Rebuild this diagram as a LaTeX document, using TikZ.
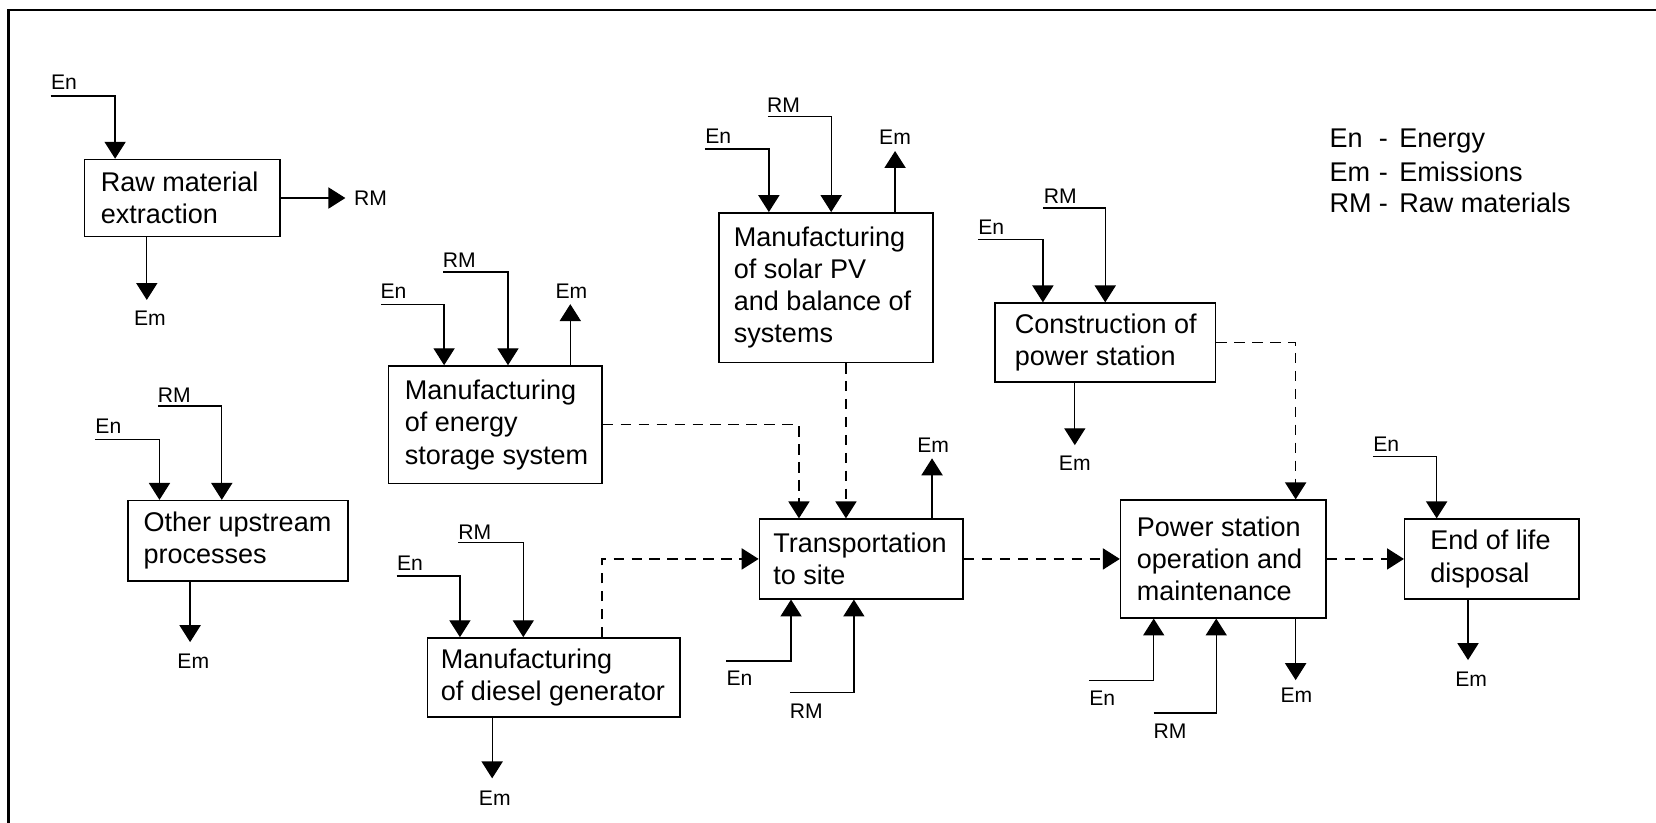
\documentclass[tikz,border=0pt]{standalone}
\usepackage{fontspec}
\setmainfont{Liberation Sans}
\usetikzlibrary{arrows.meta,fit}
\begin{document}
\begin{tikzpicture}[x=0.5pt,y=-0.5pt,
  box/.style={draw, line width=0.7pt, inner sep=0pt},
  boxtext/.style={inner sep=0pt, align=left, anchor=west, font=\fontsize{12.8}{15.3}\selectfont},
  lbl/.style={inner sep=0pt, font=\fontsize{10}{12}\selectfont},
  legtext/.style={inner sep=0pt, anchor=base west, font=\fontsize{12.8}{15.3}\selectfont},
  flow/.style={line width=0.6pt, -{Triangle[length=8pt,width=10pt]}},
  dflow/.style={flow, dash pattern=on 5pt off 3.5pt},
]
\fill[white] (0,0) rectangle (1568,779);
\useasboundingbox (0,0) rectangle (1568,779);
% frame (cut off at right and bottom)
\draw[line width=1.2pt] (1568,9.5) -- (7.9,9.5) -- (7.9,779);

% ---------- boxes ----------
\node[box, fit={(80,151) (265,224)}] (raw) {};
\node[boxtext, xshift=7.85pt] (rawT) at (raw.west) {Raw material\\extraction};

\node[box, fit={(121,474) (329.5,550)}] (oth) {};
\node[boxtext, xshift=7.6pt] (othT) at (oth.west) {Other upstream\\processes};

\node[box, fit={(368,346.5) (570,458)}] (sto) {};
\node[boxtext, xshift=7.85pt] (stoT) at (sto.west) {Manufacturing\\of energy\\storage system};

\node[box, fit={(681,201.5) (883.5,343)}] (sol) {};
\node[boxtext, xshift=7.1pt] (solT) at (sol.west) {Manufacturing\\of solar PV\\and balance of\\systems};

\node[box, fit={(942,287) (1151,361.5)}] (con) {};
\node[boxtext, xshift=9.6pt] (conT) at (con.west) {Construction of\\power station};

\node[box, fit={(719,491.5) (912,567)}] (tra) {};
\node[boxtext, xshift=6.8pt] (traT) at (tra.west) {Transportation\\to site};

\node[box, fit={(405,604) (644,679)}] (die) {};
\node[boxtext, xshift=6.4pt] (dieT) at (die.west) {Manufacturing\\of diesel generator};

\node[box, fit={(1061,473.5) (1255.7,585)}] (pow) {};
\node[boxtext, xshift=7.9pt] (powT) at (pow.west) {Power station\\operation and\\maintenance};

\node[box, fit={(1330,491.5) (1495,567)}] (eol) {};
\node[boxtext, xshift=12.3pt] (eolT) at (eol.west) {End of life\\disposal};

% ---------- legend ----------
\node[legtext] (leg1) at (1258.5,139.7) {\makebox[23.4pt][l]{En}-\hspace{5.4pt}Energy};
\node[legtext] (leg2) at (1258.5,172.2) {\makebox[23.4pt][l]{Em}-\hspace{5.4pt}Emissions};
\node[legtext] (leg3) at (1258.5,201.2) {\makebox[23.4pt][l]{RM}-\hspace{5.4pt}Raw materials};

% ---------- Raw material extraction ----------
\node[lbl, anchor=west] (rawEnL) at (48,78) {En};
\coordinate (rawEnS) at (48,91); \coordinate (rawEnX) at (109,91);
\draw[flow] (rawEnS) -- (rawEnX) -- (rawEnX |- raw.north);
\coordinate (rawRMT) at (327,187.5);
\draw[flow] (raw.east) -- (rawRMT);
\node[lbl, anchor=west] (rawRML) at (335,188) {RM};
\coordinate (rawEmT) at (139,284);
\draw[flow] (rawEmT |- raw.south) -- (rawEmT);
\node[lbl] (rawEmL) at (142,301) {Em};

% ---------- Other upstream ----------
\node[lbl, anchor=west] (othEnL) at (90,404) {En};
\coordinate (othEnS) at (90,416); \coordinate (othEnX) at (151,416);
\draw[flow] (othEnS) -- (othEnX) -- (othEnX |- oth.north);
\node[lbl, anchor=west] (othRML) at (149,374) {RM};
\coordinate (othRMS) at (149.5,384.5); \coordinate (othRMX) at (210,384.5);
\draw[flow] (othRMS) -- (othRMX) -- (othRMX |- oth.north);
\coordinate (othEmT) at (180,608);
\draw[flow] (othEmT |- oth.south) -- (othEmT);
\node[lbl] (othEmL) at (183,626) {Em};

% ---------- Storage ----------
\node[lbl, anchor=west] (stoEnL) at (360,275.5) {En};
\coordinate (stoEnS) at (361,288); \coordinate (stoEnX) at (420.5,288);
\draw[flow] (stoEnS) -- (stoEnX) -- (stoEnX |- sto.north);
\node[lbl, anchor=west] (stoRML) at (419,246) {RM};
\coordinate (stoRMS) at (419.5,257.5); \coordinate (stoRMX) at (481,257.5);
\draw[flow] (stoRMS) -- (stoRMX) -- (stoRMX |- sto.north);
\coordinate (stoEmT) at (540,288);
\draw[flow] (stoEmT |- sto.north) -- (stoEmT);
\node[lbl] (stoEmL) at (541,275.5) {Em};

% ---------- Solar ----------
\node[lbl, anchor=west] (solEnL) at (667.5,129) {En};
\coordinate (solEnS) at (667.5,141); \coordinate (solEnX) at (728,141);
\draw[flow] (solEnS) -- (solEnX) -- (solEnX |- sol.north);
\node[lbl, anchor=west] (solRML) at (726,99.5) {RM};
\coordinate (solRMS) at (727,110.5); \coordinate (solRMX) at (787,110.5);
\draw[flow] (solRMS) -- (solRMX) -- (solRMX |- sol.north);
\coordinate (solEmT) at (847.5,143);
\draw[flow] (solEmT |- sol.north) -- (solEmT);
\node[lbl] (solEmL) at (847.5,129.5) {Em};

% ---------- Construction ----------
\node[lbl, anchor=west] (conEnL) at (926,215) {En};
\coordinate (conEnS) at (926,227); \coordinate (conEnX) at (987.5,227);
\draw[flow] (conEnS) -- (conEnX) -- (conEnX |- con.north);
\node[lbl, anchor=west] (conRML) at (988,185.6) {RM};
\coordinate (conRMS) at (987.5,197); \coordinate (conRMX) at (1046.5,197);
\draw[flow] (conRMS) -- (conRMX) -- (conRMX |- con.north);
\coordinate (conEmT) at (1017.7,421.5);
\draw[flow] (conEmT |- con.south) -- (conEmT);
\node[lbl] (conEmL) at (1017.7,438.5) {Em};

% ---------- Transportation ----------
\coordinate (traEmT) at (882.5,434);
\draw[flow] (traEmT |- tra.north) -- (traEmT);
\node[lbl] (traEmL) at (883.5,421.5) {Em};
\coordinate (traEnS) at (687.5,626); \coordinate (traEnX) at (749,626);
\draw[flow] (traEnS) -- (traEnX) -- (traEnX |- tra.south);
\node[lbl, anchor=west] (traEnL) at (687.5,642) {En};
\coordinate (traRMS) at (748,656); \coordinate (traRMX) at (808.5,656);
\draw[flow] (traRMS) -- (traRMX) -- (traRMX |- tra.south);
\node[lbl, anchor=west] (traRML) at (747.5,673) {RM};

% ---------- Diesel ----------
\node[lbl, anchor=west] (dieEnL) at (375.5,533) {En};
\coordinate (dieEnS) at (375.5,545.5); \coordinate (dieEnX) at (435.5,545.5);
\draw[flow] (dieEnS) -- (dieEnX) -- (dieEnX |- die.north);
\node[lbl, anchor=west] (dieRML) at (433.5,503.5) {RM};
\coordinate (dieRMS) at (434,514); \coordinate (dieRMX) at (495.5,514);
\draw[flow] (dieRMS) -- (dieRMX) -- (dieRMX |- die.north);
\coordinate (dieEmT) at (466,737);
\draw[flow] (dieEmT |- die.south) -- (dieEmT);
\node[lbl] (dieEmL) at (468.5,755.5) {Em};

% ---------- Power station ----------
\coordinate (powEmT) at (1226.8,644);
\draw[flow] (powEmT |- pow.south) -- (powEmT);
\node[lbl] (powEmL) at (1227.5,658) {Em};
\coordinate (powEnS) at (1031,644); \coordinate (powEnX) at (1092.4,644);
\draw[flow] (powEnS) -- (powEnX) -- (powEnX |- pow.south);
\node[lbl, anchor=west] (powEnL) at (1031,660.7) {En};
\coordinate (powRMS) at (1092.4,675); \coordinate (powRMX) at (1151.6,675);
\draw[flow] (powRMS) -- (powRMX) -- (powRMX |- pow.south);
\node[lbl, anchor=west] (powRML) at (1092,692) {RM};

% ---------- End of life ----------
\node[lbl, anchor=west] (eolEnL) at (1300,420.5) {En};
\coordinate (eolEnS) at (1300,432.5); \coordinate (eolEnX) at (1360.3,432.5);
\draw[flow] (eolEnS) -- (eolEnX) -- (eolEnX |- eol.north);
\coordinate (eolEmT) at (1390,625);
\draw[flow] (eolEmT |- eol.south) -- (eolEmT);
\node[lbl] (eolEmL) at (1393,643) {Em};

% ---------- dashed product flows ----------
\coordinate (traIn1) at (756.5,0);
\coordinate (traIn2) at (801,0);
\coordinate (dieOut) at (570,0);
\coordinate (powIn) at (1226.8,0);
\draw[dflow] (sto.east) -| (traIn1 |- tra.north);
\draw[dflow] (traIn2 |- sol.south) -- (traIn2 |- tra.north);
\draw[dflow] (dieOut |- die.north) |- (tra.west);
\draw[dflow] (tra.east) -- (pow.west);
\draw[dflow] (con.east) -| (powIn |- pow.north);
\draw[dflow] (pow.east) -- (eol.west);
\end{tikzpicture}
\end{document}
